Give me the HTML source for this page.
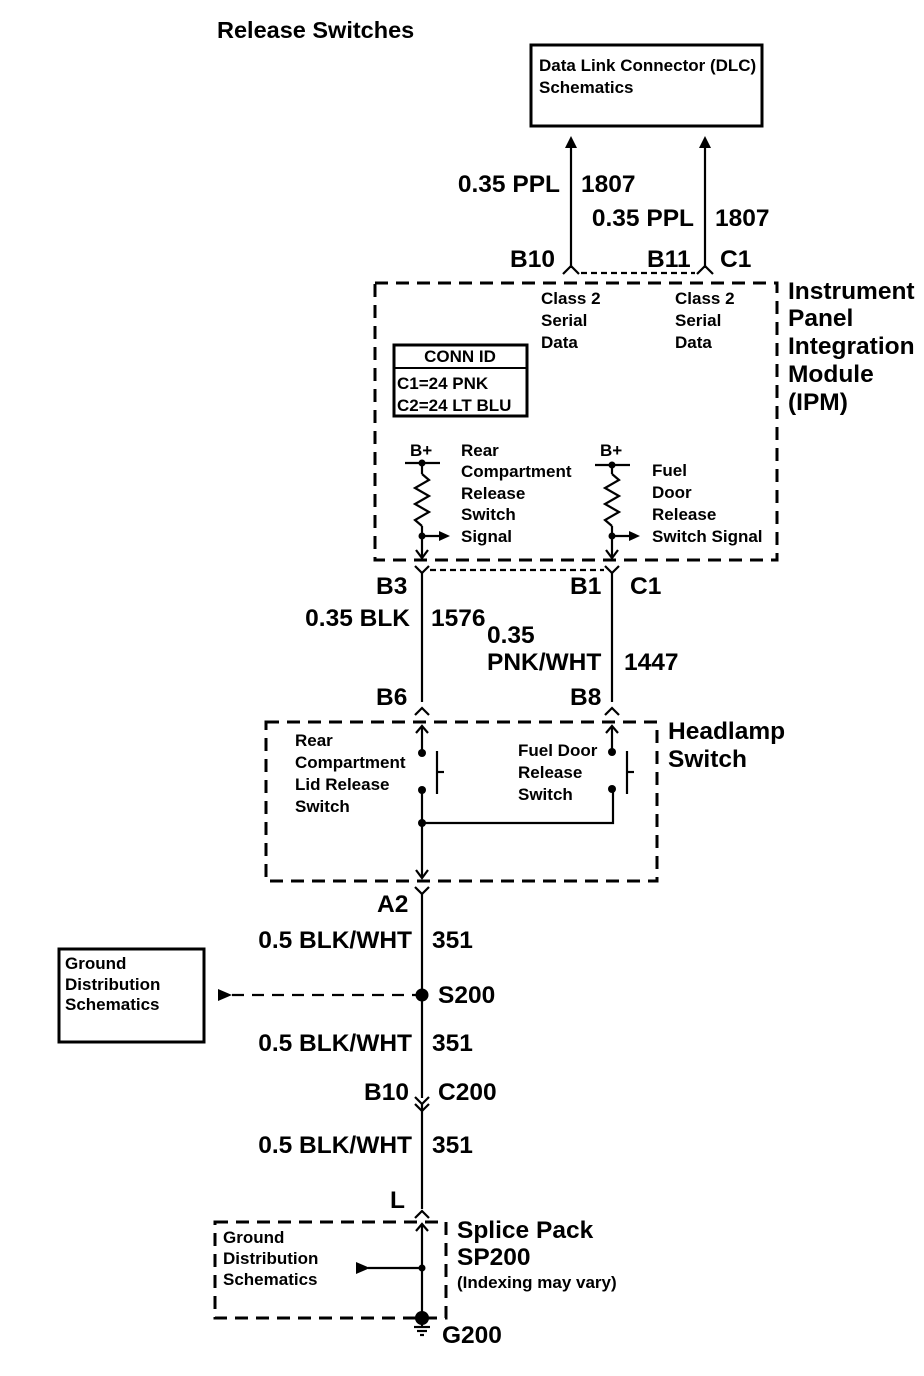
<!DOCTYPE html>
<html><head><meta charset="utf-8"><style>
html,body{margin:0;padding:0;background:#fff}
svg{display:block}
text{font-family:"Liberation Sans",Arial,sans-serif;fill:#000;font-weight:bold}
.b{font-size:24.5px}
.s{font-size:17px}
.t{font-size:17px}
</style></head><body>
<svg width="924" height="1376" viewBox="0 0 924 1376" xmlns="http://www.w3.org/2000/svg">
<g stroke="#000" fill="none" stroke-width="2.2">
<rect x="531" y="45" width="231" height="81" stroke-width="3"/>
<line x1="571" y1="268" x2="571" y2="146"/>
<line x1="705" y1="268" x2="705" y2="146"/>
<polyline points="563,274 571,266 579,274"/>
<polyline points="697,274 705,266 713,274"/>
<line x1="581" y1="273" x2="695" y2="273" stroke-dasharray="6,4"/>
<rect x="375" y="283" width="402" height="277" stroke-width="3" stroke-dasharray="13,8"/>
<rect x="394" y="345" width="133" height="71" stroke-width="3"/>
<line x1="394" y1="368" x2="527" y2="368" stroke-width="2"/>
<line x1="405" y1="463" x2="440" y2="463"/>
<line x1="422" y1="463" x2="422" y2="474"/>
<polyline points="422,474 429,480 415,488 429,496 415,504 429,512 415,520 422,526"/>
<line x1="422" y1="526" x2="422" y2="558"/>
<polyline points="416,550 422,558 428,550"/>
<line x1="422" y1="536" x2="440" y2="536"/>
<line x1="595" y1="465" x2="630" y2="465"/>
<line x1="612" y1="465" x2="612" y2="474"/>
<polyline points="612,474 619,480 605,488 619,496 605,504 619,512 605,520 612,526"/>
<line x1="612" y1="526" x2="612" y2="558"/>
<polyline points="606,550 612,558 618,550"/>
<line x1="612" y1="536" x2="630" y2="536"/>
<polyline points="415,566 422,573 429,566"/>
<polyline points="605,566 612,573 619,566"/>
<line x1="430" y1="570" x2="604" y2="570" stroke-dasharray="6,4"/>
<line x1="422" y1="573" x2="422" y2="702"/>
<line x1="612" y1="573" x2="612" y2="702"/>
<polyline points="415,715 422,708 429,715"/>
<polyline points="605,715 612,708 619,715"/>
<rect x="266" y="722" width="391" height="159" stroke-width="3" stroke-dasharray="13,8"/>
<line x1="422" y1="726" x2="422" y2="753"/>
<polyline points="416,733 422,726 428,733"/>
<line x1="612" y1="726" x2="612" y2="752"/>
<polyline points="606,733 612,726 618,733"/>
<line x1="437" y1="751" x2="437" y2="794"/>
<line x1="437" y1="772" x2="444" y2="772"/>
<line x1="627" y1="751" x2="627" y2="794"/>
<line x1="627" y1="772" x2="634" y2="772"/>
<line x1="422" y1="790" x2="422" y2="878"/>
<polyline points="416,870 422,878 428,870"/>
<polyline points="422,823 613,823 613,790"/>
<polyline points="415,887 422,894 429,887"/>
<line x1="422" y1="894" x2="422" y2="1098"/>
<line x1="232" y1="995" x2="416" y2="995" stroke-dasharray="12,8"/>
<rect x="59" y="949" width="145" height="93" stroke-width="3"/>
<polyline points="415,1097 422,1104 429,1097"/>
<polyline points="415,1104 422,1111 429,1104"/>
<line x1="422" y1="1104" x2="422" y2="1209"/>
<polyline points="415,1218 422,1211 429,1218"/>
<rect x="215" y="1222" width="231" height="96" stroke-width="3" stroke-dasharray="13,8"/>
<line x1="422" y1="1224" x2="422" y2="1318"/>
<polyline points="416,1231 422,1224 428,1231"/>
<line x1="368" y1="1268" x2="422" y2="1268"/>
<line x1="422" y1="1318" x2="422" y2="1327"/>
<line x1="414" y1="1327" x2="430" y2="1327"/>
<line x1="417" y1="1331" x2="427" y2="1331"/>
<line x1="420" y1="1335" x2="424" y2="1335"/>
</g>
<g fill="#000">
<polygon points="571,136 565,148 577,148"/>
<polygon points="705,136 699,148 711,148"/>
<circle cx="422" cy="463" r="3.5"/><circle cx="612" cy="465" r="3.5"/>
<circle cx="422" cy="536" r="3.5"/><circle cx="612" cy="536" r="3.5"/>
<polygon points="450,536 439,531 439,541"/>
<polygon points="640,536 629,531 629,541"/>
<circle cx="422" cy="753" r="4"/><circle cx="422" cy="790" r="4"/>
<circle cx="612" cy="752" r="4"/><circle cx="612" cy="789" r="4"/>
<circle cx="422" cy="823" r="4"/>
<circle cx="422" cy="995" r="6.5"/>
<polygon points="232,995 218,989 218,1001"/>
<polygon points="370,1268 356,1262 356,1274"/>
<circle cx="422" cy="1268" r="3.5"/>
<circle cx="422" cy="1318" r="7"/>
</g>
<text x="217" y="38" style="font-size:23.5px">Release Switches</text>
<text class="s" x="539" y="71">Data Link Connector (DLC)</text>
<text class="s" x="539" y="93">Schematics</text>
<text class="b" x="560" y="192" text-anchor="end">0.35 PPL</text>
<text class="b" x="581" y="192">1807</text>
<text class="b" x="694" y="226" text-anchor="end">0.35 PPL</text>
<text class="b" x="715" y="226">1807</text>
<text class="b" x="510" y="267">B10</text>
<text class="b" x="647" y="267">B11</text>
<text class="b" x="720" y="267">C1</text>
<text class="t" x="541" y="304">Class 2</text><text class="t" x="541" y="326">Serial</text><text class="t" x="541" y="348">Data</text>
<text class="t" x="675" y="304">Class 2</text><text class="t" x="675" y="326">Serial</text><text class="t" x="675" y="348">Data</text>
<text class="b" x="788" y="299">Instrument</text>
<text class="b" x="788" y="326">Panel</text>
<text class="b" x="788" y="354">Integration</text>
<text class="b" x="788" y="382">Module</text>
<text class="b" x="788" y="410">(IPM)</text>
<text class="t" x="460" y="362" text-anchor="middle">CONN ID</text>
<text class="t" x="397" y="389">C1=24 PNK</text>
<text class="t" x="397" y="411">C2=24 LT BLU</text>
<text class="t" x="410" y="456">B+</text>
<text class="t" x="600" y="456">B+</text>
<text class="t" x="461" y="456">Rear</text><text class="t" x="461" y="477">Compartment</text><text class="t" x="461" y="499">Release</text><text class="t" x="461" y="520">Switch</text><text class="t" x="461" y="542">Signal</text>
<text class="t" x="652" y="476">Fuel</text><text class="t" x="652" y="498">Door</text><text class="t" x="652" y="520">Release</text><text class="t" x="652" y="542">Switch Signal</text>
<text class="b" x="376" y="594">B3</text>
<text class="b" x="570" y="594">B1</text>
<text class="b" x="630" y="594">C1</text>
<text class="b" x="410" y="626" text-anchor="end">0.35 BLK</text>
<text class="b" x="431" y="626">1576</text>
<text class="b" x="487" y="643">0.35</text>
<text class="b" x="487" y="670">PNK/WHT</text>
<text class="b" x="624" y="670">1447</text>
<text class="b" x="376" y="705">B6</text>
<text class="b" x="570" y="705">B8</text>
<text class="b" x="668" y="739">Headlamp</text>
<text class="b" x="668" y="767">Switch</text>
<text class="t" x="295" y="746">Rear</text><text class="t" x="295" y="768">Compartment</text><text class="t" x="295" y="790">Lid Release</text><text class="t" x="295" y="812">Switch</text>
<text class="t" x="518" y="756">Fuel Door</text><text class="t" x="518" y="778">Release</text><text class="t" x="518" y="800">Switch</text>
<text class="b" x="377" y="912">A2</text>
<text class="b" x="412" y="948" text-anchor="end">0.5 BLK/WHT</text>
<text class="b" x="432" y="948">351</text>
<text class="b" x="438" y="1003">S200</text>
<text class="t" x="65" y="969">Ground</text><text class="t" x="65" y="990">Distribution</text><text class="t" x="65" y="1010">Schematics</text>
<text class="b" x="412" y="1051" text-anchor="end">0.5 BLK/WHT</text>
<text class="b" x="432" y="1051">351</text>
<text class="b" x="364" y="1100">B10</text>
<text class="b" x="438" y="1100">C200</text>
<text class="b" x="412" y="1153" text-anchor="end">0.5 BLK/WHT</text>
<text class="b" x="432" y="1153">351</text>
<text class="b" x="390" y="1208">L</text>
<text class="b" x="457" y="1238">Splice Pack</text>
<text class="b" x="457" y="1265">SP200</text>
<text class="t" x="457" y="1288">(Indexing may vary)</text>
<text class="t" x="223" y="1243">Ground</text><text class="t" x="223" y="1264">Distribution</text><text class="t" x="223" y="1285">Schematics</text>
<text class="b" x="442" y="1343">G200</text>
</svg>
</body></html>
